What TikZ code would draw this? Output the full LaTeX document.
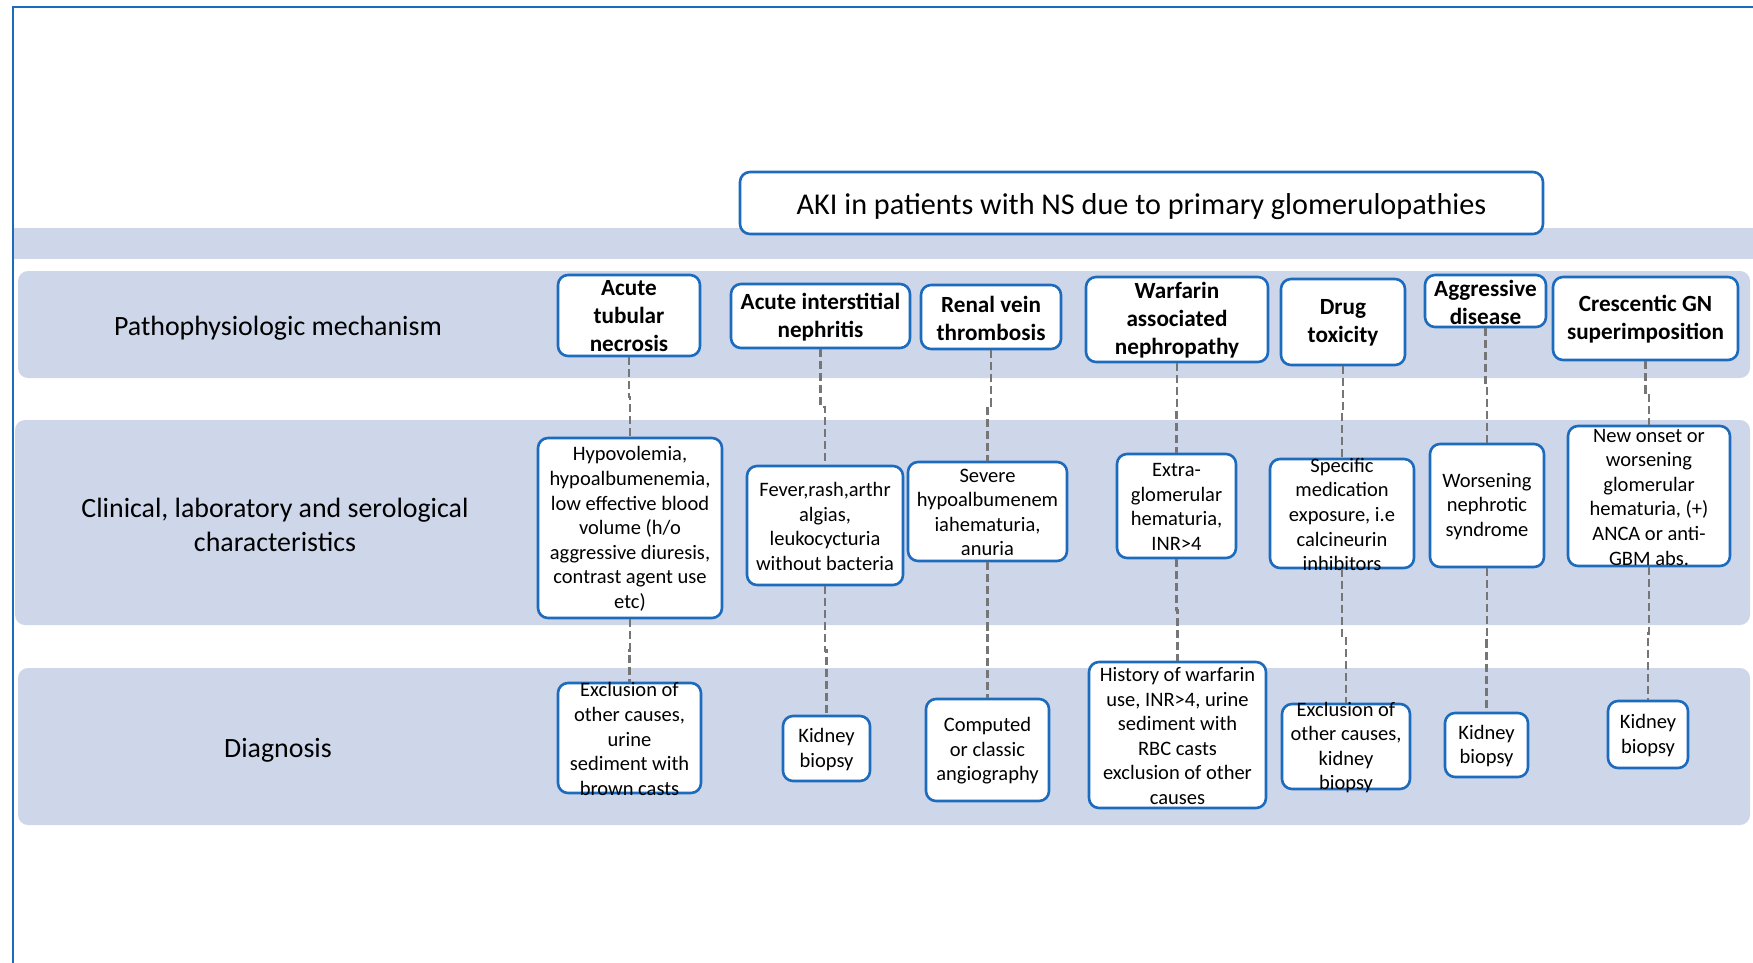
\documentclass[tikz,border=0pt]{standalone}
\usepackage{fontspec}
\setmainfont{Carlito}
\usetikzlibrary{positioning}
\usetikzlibrary{calc}
\definecolor{boxblue}{RGB}{28,107,189}
\definecolor{bandblue}{RGB}{206,214,234}
\definecolor{linkgray}{RGB}{118,118,118}

\tikzset{
  cell/.style={draw=boxblue, fill=white, line width=2.6pt, rounded corners=10pt, inner sep=0pt},
  head/.style={font=\bfseries\fontsize{23.2}{28}\selectfont, align=center, inner sep=0pt, yshift=-1pt},
  body/.style={font=\fontsize{20.5}{24.6}\selectfont, align=center, inner sep=0pt, yshift=-1pt},
  rowname/.style={font=\fontsize{27.9}{33.5}\selectfont, align=center},
  link/.style={draw=linkgray, line width=2.4pt, dash pattern=on 8pt off 4pt},
  band/.style={fill=bandblue},
}

\begin{document}
\begin{tikzpicture}[x=1pt,y=-1pt]
        \useasboundingbox (0,0) rectangle (1753,963);
        % frame and bands %
        \draw[boxblue, line width=2pt] (13,963) -- (13,7.5) -- (1753,7.5);
        \fill[band] (14,228) rectangle (1753,259);
        \fill[band, rounded corners=10pt] (18,271) rectangle (1750,378);
        \fill[band, rounded corners=10pt] (15,420) rectangle (1750,625);
        \fill[band, rounded corners=10pt] (18,668) rectangle (1750,825);

        % nodes %
        \node[cell, minimum width=803, minimum height=62, label={[font=\fontsize{30.2}{36}\selectfont, inner sep=0pt, yshift=-4pt]center:{AKI in patients with NS due to primary glomerulopathies}}] (title) at (1141.5,203) {};

        \node[rowname] (mech) at (278,328) {Pathophysiologic mechanism};
        \node[rowname] (clin) at (275,525) {Clinical, laboratory and serological\\characteristics};
        \node[rowname] (diag) at (278,750.5) {Diagnosis};

        % mechanisms
        \node[cell, minimum width=142, minimum height=81, label={[head]center:{Acute\\tubular\\necrosis}}] (atn) at (629,315.5) {};
        \node[cell, minimum width=179, minimum height=64, label={[head]center:{Acute interstitial\\nephritis}}] (ain) at (820.5,316) {};
        \node[cell, minimum width=140, minimum height=64, label={[head]center:{Renal vein\\thrombosis}}] (rvt) at (991,317) {};
        \node[cell, minimum width=182, minimum height=85, label={[head]center:{Warfarin\\associated\\nephropathy}}] (war) at (1177,319.5) {};
        \node[cell, minimum width=124, minimum height=86, label={[head]center:{Drug\\toxicity}}] (drug) at (1343,322) {};
        \node[cell, minimum width=121, minimum height=52, label={[head]center:{Aggressive\\disease}}] (aggr) at (1485.5,301) {};
        \node[cell, minimum width=185, minimum height=83, label={[head]center:{Crescentic GN\\superimposition}}] (cgn) at (1645.5,318.5) {};

        % characteristics
        \node[cell, minimum width=184, minimum height=180, label={[body]center:{Hypovolemia,\\hypoalbumenemia,\\low effective blood\\volume (h/o\\aggressive diuresis,\\contrast agent use\\etc)}}] (atnc) at (630,528) {};
        \node[cell, minimum width=156, minimum height=119, label={[body]center:{Fever,rash,arthr\\algias,\\leukocycturia\\without bacteria}}] (ainc) at (825,525.5) {};
        \node[cell, minimum width=159, minimum height=99, label={[body]center:{Severe\\hypoalbumenem\\iahematuria,\\anuria}}] (rvtc) at (987.5,511.5) {};
        \node[cell, minimum width=119, minimum height=104, label={[body]center:{Extra-\\glomerular\\hematuria,\\INR>4}}] (warc) at (1176.5,506) {};
        \node[cell, minimum width=144, minimum height=109, label={[body]center:{Specific\\medication\\exposure, i.e\\calcineurin\\inhibitors}}] (drugc) at (1342,513.5) {};
        \node[cell, minimum width=114, minimum height=123, label={[body]center:{Worsening\\nephrotic\\syndrome}}] (aggrc) at (1487,505.5) {};
        \node[cell, minimum width=162, minimum height=140, label={[body]center:{New onset or\\worsening\\glomerular\\hematuria, (+)\\ANCA or anti-\\GBM abs.}}] (cgnc) at (1649,496) {};

        % diagnosis
        \node[cell, minimum width=143, minimum height=110, label={[body]center:{Exclusion of\\other causes,\\urine\\sediment with\\brown casts}}] (atnd) at (629.5,738) {};
        \node[cell, minimum width=87, minimum height=65, label={[body]center:{Kidney\\biopsy}}] (aind) at (826.5,748.5) {};
        \node[cell, minimum width=123, minimum height=102, label={[body]center:{Computed\\or classic\\angiography}}] (rvtd) at (987.5,750) {};
        \node[cell, minimum width=177, minimum height=146, label={[body]center:{History of warfarin\\use, INR>4, urine\\sediment with\\RBC casts\\exclusion of other\\causes}}] (ward) at (1177.5,735) {};
        \node[cell, minimum width=128, minimum height=85, label={[body]center:{Exclusion of\\other causes,\\kidney\\biopsy}}] (drugd) at (1346,746.5) {};
        \node[cell, minimum width=83, minimum height=64, label={[body]center:{Kidney\\biopsy}}] (aggrd) at (1486.5,745) {};
        \node[cell, minimum width=80, minimum height=67, label={[body]center:{Kidney\\biopsy}}] (cgnd) at (1648,734.5) {};

        % edges %
        \draw[link] (atn.south) |- ($(atn.south)!.5!(atnc.north)$) -| (atnc.north);
        \draw[link] (ain.south) |- ($(ain.south)!.5!(ainc.north)$) -| (ainc.north);
        \draw[link] (rvt.south) |- ($(rvt.south)!.5!(rvtc.north)$) -| (rvtc.north);
        \draw[link] (war.south) |- ($(war.south)!.5!(warc.north)$) -| (warc.north);
        \draw[link] (drug.south) |- ($(drug.south)!.5!(drugc.north)$) -| (drugc.north);
        \draw[link] (aggr.south) |- ($(aggr.south)!.5!(aggrc.north)$) -| (aggrc.north);
        \draw[link] (cgn.south) |- ($(cgn.south)!.5!(cgnc.north)$) -| (cgnc.north);

        \draw[link] (atnc.south) |- ($(atnc.south)!.5!(atnd.north)$) -| (atnd.north);
        \draw[link] (ainc.south) |- ($(ainc.south)!.5!(aind.north)$) -| (aind.north);
        \draw[link] (rvtc.south) |- ($(rvtc.south)!.5!(rvtd.north)$) -| (rvtd.north);
        \draw[link] (warc.south) |- ($(warc.south)!.5!(ward.north)$) -| (ward.north);
        \draw[link] (drugc.south) |- ($(drugc.south)!.5!(drugd.north)$) -| (drugd.north);
        \draw[link] (aggrc.south) |- ($(aggrc.south)!.5!(aggrd.north)$) -| (aggrd.north);
        \draw[link] (cgnc.south) |- ($(cgnc.south)!.5!(cgnd.north)$) -| (cgnd.north);
\end{tikzpicture}
\end{document}
